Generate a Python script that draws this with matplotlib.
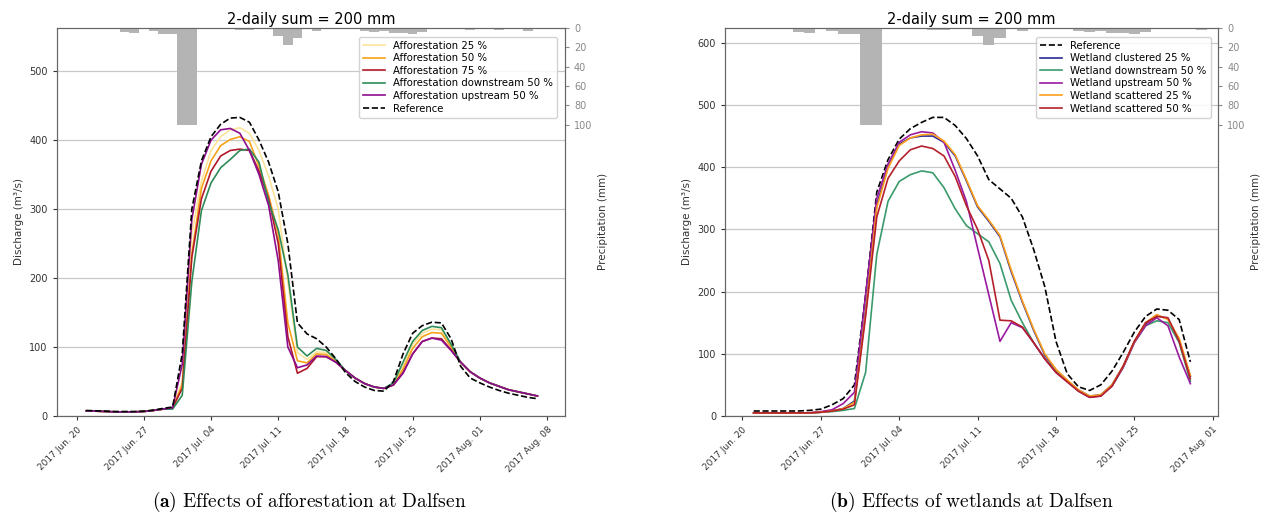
import numpy as np
import pandas as pd
import matplotlib
matplotlib.use("Agg")
import matplotlib.pyplot as plt
import matplotlib.dates as mdates

# daily data, starting 2017-06-21
start = "2017-06-21"

# 2-daily precipitation scenario (mm/day)
precip = [0, 0, 1, 0, 4, 5, 0, 3.5, 6, 6,
          100, 100, 0, 0, 0, 0, 2, 2, 0, 0,
          8, 18, 10, 0, 3.5, 0, 1.5, 0, 0, 3,
          4, 3, 5, 5, 6, 4, 0, 0, 0, 0,
          2, 0, 0, 2, 0, 0, 3, 0]

# (a) afforestation, discharge m3/s, 48 days
ref_a = [8, 7.5, 7, 6.5, 6.5, 6.5, 7, 8.5, 11, 13,
         90, 300, 370, 405, 423, 432, 433, 426, 400, 368,
         325, 250, 135, 119, 112, 100, 83, 63, 50, 42,
         37, 36, 50, 90, 120, 131, 136, 135, 112, 72,
         55, 48, 42, 37, 33, 30, 27, 25]
aff25 = [7.5, 7, 6.5, 6, 6, 6, 6.5, 8, 10, 12,
         50, 265, 340, 385, 405, 415, 418, 410, 385, 348,
         300, 195, 92, 82, 93, 92, 80, 66, 55, 47,
         42, 40, 45, 72, 104, 120, 126, 125, 102, 78,
         64, 55, 48, 43, 38, 35, 32, 29]
aff50 = [7.5, 7, 6.5, 6, 6, 6, 6.5, 8, 10, 12,
         45, 235, 330, 370, 392, 401, 405, 398, 362, 320,
         264, 135, 80, 77, 90, 89, 79, 66, 55, 47,
         42, 40, 45, 68, 98, 115, 121, 120, 100, 78,
         64, 55, 48, 43, 38, 35, 32, 29]
aff75 = [7.5, 7, 6.5, 6, 6, 6, 6.5, 8, 10, 12,
         40, 230, 315, 355, 377, 385, 387, 385, 355, 315,
         250, 115, 62, 69, 86, 86, 78, 66, 55, 47,
         42, 40, 45, 63, 90, 108, 113, 112, 96, 78,
         64, 55, 48, 43, 38, 35, 32, 29]
aff_down50 = [7.5, 7, 6.5, 6, 6, 6, 6.5, 8, 10, 10,
              30, 195, 298, 338, 360, 372, 385, 387, 368, 310,
              270, 205, 100, 87, 98, 95, 82, 66, 55, 47,
              42, 40, 48, 78, 108, 124, 130, 128, 104, 78,
              64, 55, 48, 43, 38, 35, 32, 29]
aff_up50 = [7.5, 7, 6.5, 6, 6, 6, 6.5, 8, 10, 12,
            75, 285, 365, 400, 415, 417, 410, 385, 350, 305,
            225, 100, 70, 74, 87, 86, 78, 66, 55, 47,
            42, 40, 45, 62, 90, 108, 113, 110, 95, 78,
            64, 55, 48, 43, 38, 35, 32, 29]

# (b) wetlands, 40 days
ref_b = [8, 8, 8, 8, 8, 9, 11, 18, 28, 50,
         195, 360, 412, 445, 462, 472, 480, 480, 467, 446,
         418, 380, 365, 350, 320, 268, 208, 120, 68, 47,
         41, 50, 72, 102, 135, 160, 172, 170, 155, 87]
wet_clus25 = [5, 5, 5, 5, 5, 5, 6, 8, 12, 24,
              170, 340, 400, 437, 447, 450, 450, 440, 418, 378,
              336, 313, 288, 232, 183, 138, 98, 74, 57, 42,
              32, 34, 50, 80, 120, 148, 162, 156, 122, 64]
wet_down50 = [5, 5, 5, 5, 5, 5, 6, 7, 9, 12,
              70, 260, 345, 377, 388, 394, 391, 367, 333, 306,
              293, 280, 245, 186, 150, 118, 92, 72, 56, 41,
              31, 33, 48, 78, 118, 145, 153, 150, 118, 56]
wet_up50 = [5, 5, 5, 5, 5, 5, 7, 10, 20, 38,
            195, 350, 405, 440, 452, 457, 455, 440, 395, 345,
            270, 195, 120, 150, 142, 118, 92, 70, 55, 40,
            30, 32, 48, 78, 118, 145, 158, 145, 95, 52]
wet_scat25 = [5, 5, 5, 5, 5, 5, 6, 8, 12, 22,
              165, 335, 398, 435, 447, 452, 453, 442, 420, 380,
              338, 315, 290, 235, 185, 140, 100, 75, 58, 42,
              32, 34, 50, 80, 120, 150, 163, 155, 125, 65]
wet_scat50 = [5, 5, 5, 5, 5, 5, 6, 8, 11, 18,
              160, 320, 382, 410, 428, 434, 430, 418, 385, 338,
              300, 250, 154, 153, 143, 118, 92, 70, 55, 40,
              30, 32, 48, 80, 120, 150, 160, 158, 120, 60]

days_a = pd.date_range(start, periods=len(ref_a), freq="D")
days_b = pd.date_range(start, periods=len(ref_b), freq="D")
days_p = pd.date_range(start, periods=len(precip), freq="D")

plt.rcParams["font.family"] = ["DejaVu Sans"]
plt.rcParams["mathtext.fontset"] = "cm"

fig = plt.figure(figsize=(12.61, 5.31), dpi=100)

base = mdates.date2num(pd.Timestamp("2017-06-20"))


def setup(ax, series, days, ref, xlim, ticks):
    ax.set_axisbelow(True)
    ax.grid(True, axis="y", color="#c8c8c8", linewidth=0.9)
    for y, label, color, style in series:
        ax.plot(days, y, color=color, linewidth=1.2, linestyle=style, label=label)
    ax.set_ylim(0, 1.3 * max(ref))
    ax.set_xlim(base + xlim[0], base + xlim[1])
    ax.set_xticks([base + t for t in ticks])
    ax.xaxis.set_major_formatter(mdates.DateFormatter("%Y %b. %d"))
    ax.tick_params(axis="x", labelsize=6.5, rotation=45, colors="#333333", length=3)
    for lab in ax.get_xticklabels():
        lab.set_ha("right")
        lab.set_rotation_mode("anchor")
    ax.tick_params(axis="y", labelsize=7, colors="#333333", length=3)
    ax.set_ylabel("Discharge (m³/s)", fontsize=7.5, color="#333333")
    ax.set_title("2-daily sum = 200 mm", fontsize=10.5, pad=3)
    for s in ax.spines.values():
        s.set_color("#666666")

    # precipitation bars hanging from the top on a reversed twin axis
    ax2 = ax.twinx()
    ax2.bar(days_p, precip, width=1.0, color="#b4b4b4")
    ax2.set_ylim(400, 0)
    ax2.set_yticks([0, 20, 40, 60, 80, 100])
    ax2.tick_params(axis="y", labelsize=7, colors="#888888", length=3)
    ax2.set_ylabel("Precipitation (mm)", fontsize=7.5, color="#333333")
    for s in ax2.spines.values():
        s.set_color("#666666")
    h, l = ax.get_legend_handles_labels()
    ax2.legend(h, l, loc="upper right", fontsize=7.3, framealpha=0.85,
               borderpad=0.4, labelspacing=0.25, handlelength=2.2,
               bbox_to_anchor=(0.995, 0.99))
    return ax2


ax_a = fig.add_axes([0.045, 0.2166, 0.403, 0.731])
series_a = [
    (aff25, "Afforestation 25 %", "#fde49a", "-"),
    (aff50, "Afforestation 50 %", "#f7a21b", "-"),
    (aff75, "Afforestation 75 %", "#b0182a", "-"),
    (aff_down50, "Afforestation downstream 50 %", "#2e8b57", "-"),
    (aff_up50, "Afforestation upstream 50 %", "#8e0c8e", "-"),
    (ref_a, "Reference", "black", "--"),
]
setup(ax_a, series_a, days_a, ref_a, (-2.07, 50.86), range(0, 50, 7))

ax_b = fig.add_axes([0.575, 0.2166, 0.391, 0.731])
series_b = [
    (ref_b, "Reference", "black", "--"),
    (wet_clus25, "Wetland clustered 25 %", "#2b2b96", "-"),
    (wet_down50, "Wetland downstream 50 %", "#3a9a6c", "-"),
    (wet_up50, "Wetland upstream 50 %", "#9a1aa0", "-"),
    (wet_scat25, "Wetland scattered 25 %", "#ffa01c", "-"),
    (wet_scat50, "Wetland scattered 50 %", "#b5202a", "-"),
]
setup(ax_b, series_b, days_b, ref_b, (-1.55, 42.48), range(0, 43, 7))

fig.text(0.245, 0.045, r"$\mathbf{(a)}$ $\mathrm{Effects\ of\ afforestation\ at\ Dalfsen}$",
         ha="center", fontsize=14)
fig.text(0.77, 0.045, r"$\mathbf{(b)}$ $\mathrm{Effects\ of\ wetlands\ at\ Dalfsen}$",
         ha="center", fontsize=14)

fig.savefig("out.png", dpi=100)
